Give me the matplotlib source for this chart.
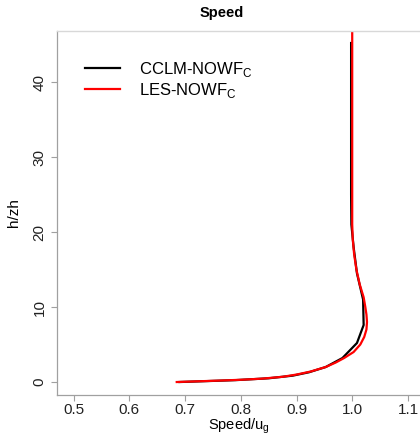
import matplotlib
matplotlib.use('Agg')
import matplotlib.pyplot as plt

plt.rcParams['font.family'] = ['Liberation Sans', 'DejaVu Sans']

# ---------------------------------------------------------------
# Data
# ---------------------------------------------------------------
# CCLM model levels (piecewise linear)
cclm_z = [0.0, 0.25, 0.5, 0.85, 1.3, 2.0, 3.2, 5.2, 7.6, 11.0, 14.5,
          18.0, 21.0, 25.0, 30.0, 35.0, 40.0, 45.2]
cclm_s = [0.69, 0.79, 0.85, 0.893, 0.922, 0.952, 0.982, 1.008, 1.020,
          1.019, 1.008, 1.002, 0.998, 0.9975, 0.9975, 0.9975, 0.9975, 0.9975]

# LES profile (smooth)
les_z = [0.0, 0.1, 0.2, 0.3, 0.45, 0.7, 1.0, 1.4, 2.0, 2.6, 3.2, 4.0,
         5.0, 6.0, 7.0, 8.0, 9.0, 10.0, 11.3, 13.0, 15.0, 17.0, 19.0,
         21.0, 25.0, 30.0, 40.0, 48.0]
les_s = [0.685, 0.725, 0.765, 0.80, 0.838, 0.875, 0.90, 0.925, 0.952,
         0.970, 0.985, 1.002, 1.014, 1.021, 1.025, 1.026, 1.025, 1.023,
         1.020, 1.013, 1.007, 1.003, 1.0005, 0.9995, 0.9995, 0.9995,
         0.9995, 0.9995]

XTICKS = [0.5, 0.6, 0.7, 0.8, 0.9, 1.0, 1.1]
YTICKS = [0, 10, 20, 30, 40]

# ---------------------------------------------------------------
# Plot
# ---------------------------------------------------------------
fig = plt.figure(figsize=(4.2, 4.36), dpi=100)
ax = fig.add_axes([57 / 420, 41 / 436, 1 - 57 / 420, (395 - 31) / 436])

ax.plot(cclm_s, cclm_z, color='black', lw=1.6, label=r'CCLM-NOWF$_\mathregular{C}$')
ax.plot(les_s, les_z, color='#ff0000', lw=1.6, label=r'LES-NOWF$_\mathregular{C}$')

ax.set_xlim(0.4704, 1.121)
ax.set_ylim(-1.73, 46.8)
ax.set_xticks(XTICKS)
ax.set_xticklabels([f'{v:.1f}' for v in XTICKS])
ax.set_yticks(YTICKS)
ax.set_yticklabels([str(v) for v in YTICKS], rotation=90, va='center')

for side in ['left', 'bottom']:
    ax.spines[side].set_color('#a0a0a0')
    ax.spines[side].set_linewidth(0.9)
ax.spines['top'].set_color('#d8d8d8')
ax.spines['top'].set_linewidth(1.0)
ax.spines['right'].set_visible(False)

ax.tick_params(axis='both', colors='#a0a0a0', labelcolor='#222222',
               labelsize=11, length=4.5, width=0.8, direction='out')
ax.tick_params(axis='y', pad=3)
ax.tick_params(axis='x', pad=1)

ax.set_xlabel(r'Speed/u$_\mathregular{g}$', fontsize=10.5, labelpad=0)
ax.set_ylabel('h/zh', fontsize=11, labelpad=8)
fig.text(222 / 420, 1 - 13 / 436, 'Speed', fontsize=10.5, fontweight='bold',
         ha='center', va='center')

ax.legend(loc='upper left', bbox_to_anchor=(0.06, 0.94), frameon=False,
          fontsize=12, handlelength=2.1, handletextpad=1.1,
          labelspacing=0.15, borderaxespad=0)

fig.savefig('out.png', dpi=100)
